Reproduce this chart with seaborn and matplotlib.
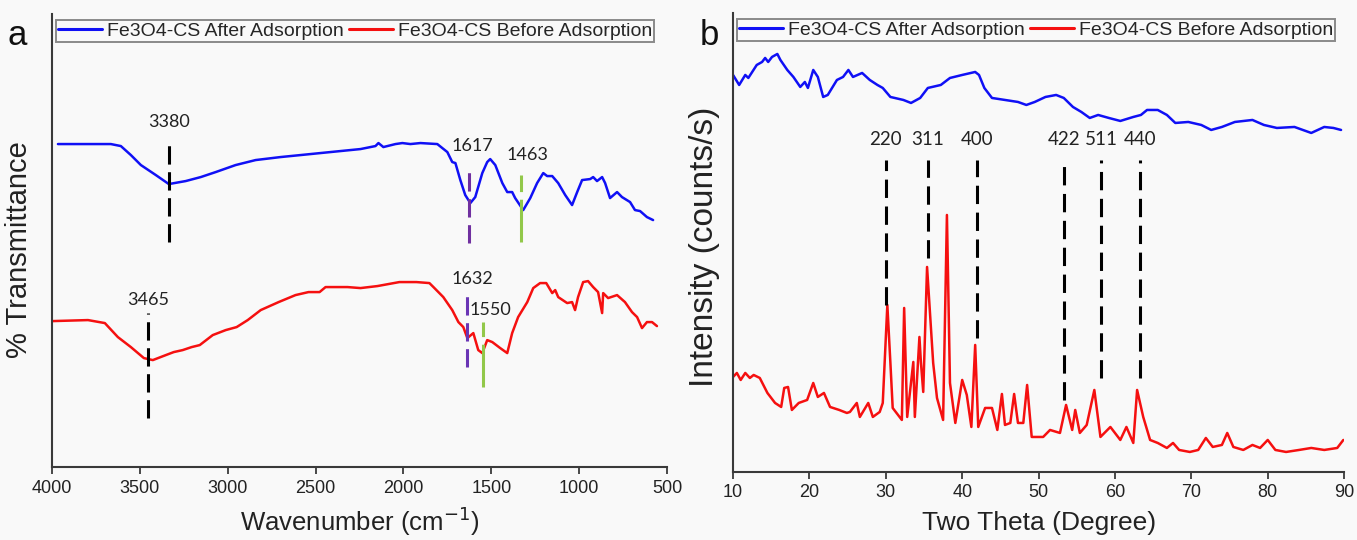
import numpy as np
import pandas as pd
import matplotlib
matplotlib.use("Agg")
import matplotlib.pyplot as plt
import seaborn as sns

## ---- data ----
# (a) FTIR, transmittance in arbitrary units (curves offset)
ftir_after_wn = [3966, 3665, 3608, 3551, 3494, 3409, 3335, 3239, 3153, 3068, 2955, 2841,
                 2699, 2585, 2472, 2358, 2244, 2159, 2142, 2114, 2045, 2006, 1960, 1903,
                 1807, 1750, 1722, 1704, 1676, 1648, 1619, 1591, 1551, 1523, 1506, 1477,
                 1437, 1409, 1381, 1364, 1318, 1278, 1239, 1204, 1182, 1153, 1119, 1079,
                 1040, 1011, 983, 937, 920, 898, 869, 852, 824, 784, 756, 710, 682, 653,
                 614, 579]
ftir_after_t = [323, 323, 321, 312, 302, 292, 283, 286, 290, 295, 302, 307,
                310, 312, 314, 316, 318, 321, 324, 320, 323, 324, 323, 324,
                323, 315, 305, 304, 287, 272, 264, 270, 294, 305, 308, 302,
                284, 275, 275, 269, 257, 269, 284, 294, 291, 291, 284, 272,
                262, 275, 287, 288, 290, 286, 290, 284, 269, 275, 270, 265, 257, 256,
                250, 247]

ftir_before_wn = [3994, 3795, 3699, 3625, 3551, 3477, 3426, 3352, 3307, 3256, 3205, 3159,
                  3085, 3011, 2949, 2886, 2812, 2710, 2614, 2540, 2477, 2443, 2318, 2244,
                  2148, 2023, 1926, 1852, 1829, 1773, 1722, 1687, 1659, 1636, 1602, 1574,
                  1551, 1523, 1494, 1449, 1409, 1381, 1347, 1295, 1261, 1222, 1187, 1153,
                  1136, 1119, 1068, 1040, 1023, 1006, 977, 949, 920, 892, 869, 863, 835,
                  784, 739, 699, 670, 642, 614, 585, 557]
ftir_before_t = [146, 147, 144, 130, 120, 109, 107, 112, 115, 117, 120, 122,
                 132, 137, 140, 147, 157, 165, 172, 175, 175, 180, 180, 179,
                 181, 185, 185, 184, 180, 170, 157, 145, 140, 129, 134, 117,
                 114, 127, 125, 119, 114, 134, 150, 165, 179, 184, 184, 174,
                 177, 170, 164, 165, 157, 170, 185, 186, 180, 175, 154, 174, 169,
                 172, 165, 155, 150, 139, 145, 145, 141]

ftir_peak_labels = ["3380", "1617", "1463", "3465", "1632", "1550"]
ftir_peak_wn = [3335, 1625, 1329, 3455, 1636, 1545]
ftir_peak_top = [327, 297, 292, 154, 175, 145]
ftir_peak_bottom = [225, 224, 225, 49, 100, 80]
ftir_label_wn = [3335, 1608, 1295, 3455, 1608, 1506]
ftir_label_t = [345, 321, 312, 167, 188, 157]
ftir_peak_colors = ["black", "#7030a0", "#92c84a", "black", "#6a35b5", "#92c84a"]

# (b) XRD, intensity in arbitrary units (curves offset)
xrd_after_2t = [10.0, 10.8, 11.6, 12.0, 13.1, 13.8, 14.2, 14.6, 15.1, 15.8, 16.2, 17.1,
                17.9, 18.8, 19.4, 19.8, 20.5, 21.1, 21.8, 22.4, 23.6, 24.4, 25.1, 25.7,
                26.9, 27.9, 28.9, 29.6, 30.6, 32.3, 33.3, 34.5, 35.5, 37.2, 38.4, 40.0,
                41.7, 42.2, 42.9, 43.9, 45.6, 47.3, 48.4, 49.5, 50.9, 52.3, 53.3, 54.5,
                55.6, 56.7, 57.8, 59.2, 60.7, 62.4, 63.4, 64.2, 65.6, 66.8, 67.9, 69.6,
                71.3, 72.6, 74.0, 75.7, 78.0, 79.5, 81.2, 83.5, 85.7, 87.4, 88.6, 89.6]
xrd_after_i = [397, 387, 397, 394, 407, 410, 414, 410, 415, 418, 412, 402,
               395, 385, 390, 384, 402, 395, 375, 377, 392, 395, 402, 395,
               399, 392, 387, 384, 375, 372, 369, 374, 384, 387, 394, 397,
               400, 397, 384, 374, 372, 370, 367, 370, 375, 377, 374, 365,
               360, 354, 357, 354, 351, 355, 357, 362, 362, 357, 349, 350,
               347, 342, 345, 350, 352, 347, 344, 345, 339, 345, 344, 342]

xrd_before_2t = [10.0, 10.5, 11.0, 11.6, 12.2, 12.7, 13.5, 14.5, 15.5, 16.3, 16.7, 17.2,
                 17.7, 18.6, 19.7, 20.5, 21.1, 21.9, 22.7, 23.9, 24.9, 25.3, 26.2, 26.6,
                 27.7, 28.3, 29.2, 29.6, 30.2, 30.6, 30.9, 32.1, 32.4, 32.8, 33.6, 33.8,
                 34.4, 34.6, 34.9, 35.4, 35.7, 36.2, 36.7, 37.5, 38.0, 38.4, 39.1, 40.0,
                 40.6, 41.2, 41.7, 42.1, 43.0, 43.9, 44.6, 45.2, 45.6, 46.3, 46.8, 47.3,
                 48.0, 48.5, 49.1, 50.6, 51.5, 52.8, 53.6, 54.4, 54.8, 55.4, 56.3, 57.3,
                 58.1, 59.4, 60.7, 61.5, 62.4, 62.9, 63.7, 64.6, 65.6, 66.8, 67.6, 68.4,
                 69.8, 70.9, 71.9, 72.8, 74.0, 74.7, 75.5, 76.8, 78.0, 79.0, 80.0, 81.0,
                 82.4, 84.1, 85.7, 87.4, 89.1, 89.9]
xrd_before_i = [95, 99, 92, 99, 94, 97, 94, 79, 69, 65, 84, 85,
                62, 69, 72, 89, 75, 79, 65, 62, 59, 60, 69, 55,
                69, 55, 60, 69, 167, 109, 64, 52, 164, 55, 110, 55,
                135, 109, 80, 205, 169, 109, 74, 52, 257, 89, 49, 92,
                77, 45, 127, 45, 64, 64, 42, 78, 47, 49, 78, 49,
                49, 87, 35, 35, 42, 39, 67, 42, 62, 39, 47, 82,
                35, 45, 32, 45, 29, 82, 55, 32, 29, 24, 29, 22,
                20, 22, 34, 25, 27, 39, 25, 22, 27, 24, 32, 22,
                20, 22, 24, 22, 24, 32]

xrd_hkl = ["220", "311", "400", "422", "511", "440"]
xrd_hkl_2t = [30.0, 35.5, 41.95, 53.3, 58.2, 63.3]
xrd_line_top = [312, 312, 312, 312, 312, 312]
xrd_line_bottom = [167, 214, 134, 72, 94, 94]
xrd_label_i = 332

series_names = ["Fe3O4-CS After Adsorption", "Fe3O4-CS Before Adsorption"]
palette = {series_names[0]: "#1010f5", series_names[1]: "#f51010"}


def main():
    sns.set_theme(style="ticks")
    plt.rcParams['font.family'] = ['Liberation Sans', 'DejaVu Sans']

    ftir = pd.concat([
        pd.DataFrame({"wn": ftir_after_wn, "t": ftir_after_t, "s": series_names[0]}),
        pd.DataFrame({"wn": ftir_before_wn, "t": ftir_before_t, "s": series_names[1]}),
    ])
    xrd = pd.concat([
        pd.DataFrame({"tt": xrd_after_2t, "i": xrd_after_i, "s": series_names[0]}),
        pd.DataFrame({"tt": xrd_before_2t, "i": xrd_before_i, "s": series_names[1]}),
    ])

    bg = "#f9f9f9"
    fig = plt.figure(figsize=(13.57, 5.4), dpi=100, facecolor=bg)
    ax_a = fig.add_axes([0.0383, 0.135, 0.4532, 0.839], facecolor=bg)
    ax_b = fig.add_axes([0.5402, 0.126, 0.4503, 0.850], facecolor=bg)

    sns.lineplot(data=ftir, x="wn", y="t", hue="s", palette=palette,
                 linewidth=1.8, ax=ax_a, legend=True)
    sns.lineplot(data=xrd, x="tt", y="i", hue="s", palette=palette,
                 linewidth=1.8, ax=ax_b, legend=True)

    # peak markers (a)
    for i in range(len(ftir_peak_labels)):
        ax_a.plot([ftir_peak_wn[i], ftir_peak_wn[i]],
                  [ftir_peak_bottom[i], ftir_peak_top[i]],
                  color=ftir_peak_colors[i], lw=2.2,
                  linestyle=(0, (6, 2.5)) if ftir_peak_colors[i] != "#92c84a" else (0, (14, 2.5)))
        ax_a.text(ftir_label_wn[i], ftir_label_t[i], ftir_peak_labels[i],
                  ha="center", va="center", fontsize=13, family="Lato", color="#222222")

    # hkl markers (b)
    for i in range(len(xrd_hkl)):
        ax_b.plot([xrd_hkl_2t[i], xrd_hkl_2t[i]],
                  [xrd_line_bottom[i], xrd_line_top[i]],
                  color="black", lw=2.2, linestyle=(0, (6, 2.8)))
        ax_b.text(xrd_hkl_2t[i], xrd_label_i, xrd_hkl[i],
                  ha="center", va="center", fontsize=13.5, family="Lato", color="#222222")

    ax_a.set_xlim(4000, 500)
    ax_a.set_ylim(0, 453)
    ax_a.set_xticks([4000, 3500, 3000, 2500, 2000, 1500, 1000, 500])
    ax_b.set_xlim(10, 90)
    ax_b.set_ylim(0, 459)
    ax_b.set_xticks(range(10, 91, 10))

    for ax in (ax_a, ax_b):
        ax.set_yticks([])
        for side in ("top", "right"):
            ax.spines[side].set_visible(False)
        for side in ("left", "bottom"):
            ax.spines[side].set_color("#3a3a3a")
            ax.spines[side].set_linewidth(1.5)
        ax.tick_params(axis="x", direction="out", length=5, width=1.3,
                       color="#3a3a3a", labelsize=13, labelcolor="#222222", pad=4)
        handles, labels = ax.get_legend_handles_labels()
        leg = ax.legend(handles, labels, ncol=2, loc="upper left",
                        bbox_to_anchor=(0.006, 0.987), frameon=True, fancybox=False,
                        edgecolor="#8a8a8a", facecolor=bg, framealpha=1,
                        handlelength=2.25, columnspacing=0.3, handletextpad=0.25,
                        borderpad=0.12, borderaxespad=0, fontsize=14)
        leg.get_frame().set_linewidth(1.4)
        for line in leg.get_lines():
            line.set_linewidth(2.2)

    ax_a.set_xlabel("Wavenumber (cm$^{-1}$)", fontsize=18.5, color="#222222", labelpad=6)
    ax_a.set_ylabel("% Transmittance", fontsize=21, color="#222222")
    ax_a.yaxis.set_label_coords(-0.031, 0.48)
    ax_b.set_xlabel("Two Theta (Degree)", fontsize=19, color="#222222", labelpad=7)
    ax_b.set_ylabel("Intensity (counts/s)", fontsize=24, color="#222222")
    ax_b.yaxis.set_label_coords(-0.021, 0.49)

    fig.text(0.013, 0.935, "a", fontsize=25, ha="center", va="center", color="#111111")
    fig.text(0.5225, 0.935, "b", fontsize=25, ha="center", va="center", color="#111111")

    fig.savefig("out.png", dpi=100, facecolor=bg)


if __name__ == "__main__":
    main()
